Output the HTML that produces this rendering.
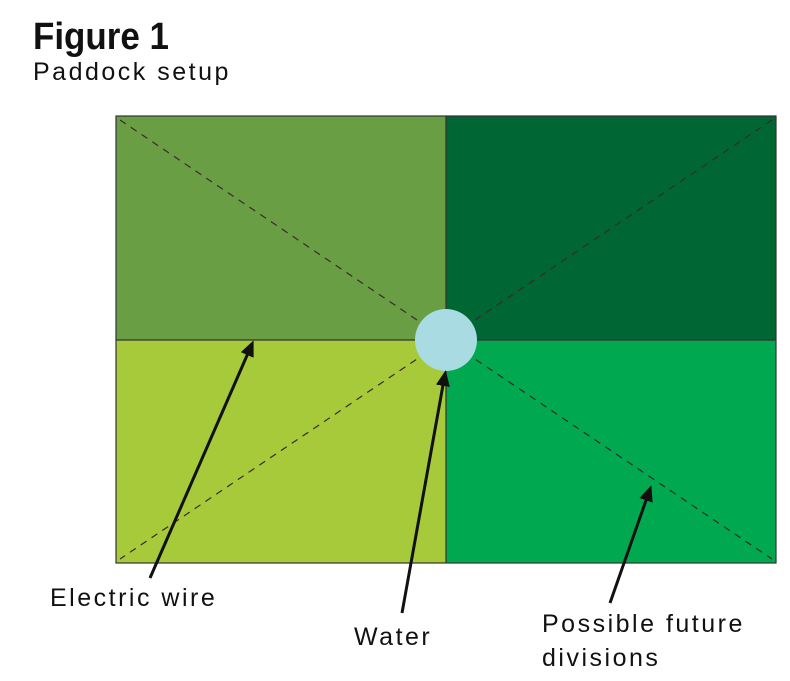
<!DOCTYPE html>
<html><head><style>
body{margin:0;background:#fff;width:790px;height:681px;overflow:hidden}
</style></head><body>
<svg width="790" height="681" xmlns="http://www.w3.org/2000/svg" style="position:absolute;left:0;top:0">
<defs><marker id="ah" markerWidth="16" markerHeight="14" refX="12" refY="7" orient="auto" markerUnits="userSpaceOnUse"><path d="M0,0 L16,7 L0,14 Z" fill="#111"/></marker></defs>
<text x="33" y="49" font-family="Liberation Sans Narrow, Liberation Sans, sans-serif" font-weight="bold" font-size="38" transform="translate(33,0) scale(0.92,1) translate(-33,0)" fill="#111">Figure 1</text>
<text x="33" y="80" font-family="Liberation Sans, sans-serif" font-size="25" letter-spacing="2.5" fill="#111">Paddock setup</text>
<rect x="116" y="116" width="330" height="224" fill="#6a9e45"/>
<rect x="446" y="116" width="330" height="224" fill="#006633"/>
<rect x="116" y="340" width="330" height="223" fill="#a6ca3a"/>
<rect x="446" y="340" width="330" height="223" fill="#00a94f"/>
<g stroke="#333" stroke-width="1.2">
<line x1="116" y1="340" x2="776" y2="340"/>
<line x1="446" y1="116" x2="446" y2="563"/>
<rect x="116" y="116" width="660" height="447" fill="none"/>
</g>
<g stroke="#3a2a2a" stroke-width="1.2" stroke-dasharray="7,6">
<line x1="120" y1="120" x2="772" y2="559"/>
<line x1="772" y1="120" x2="120" y2="559"/>
</g>
<circle cx="446" cy="340" r="31" fill="#a9dce2"/>
<g stroke="#111" stroke-width="3" marker-end="url(#ah)">
<line x1="150" y1="578" x2="252" y2="344"/>
<line x1="402" y1="613" x2="445" y2="374"/>
<line x1="610" y1="603" x2="650" y2="489"/>
</g>
<g font-family="Liberation Sans, sans-serif" font-size="25" letter-spacing="2.5" fill="#111">
<text x="50" y="606">Electric wire</text>
<text x="354" y="645">Water</text>
<text x="542" y="632">Possible future</text>
<text x="542" y="666">divisions</text>
</g>
</svg>
</body></html>
